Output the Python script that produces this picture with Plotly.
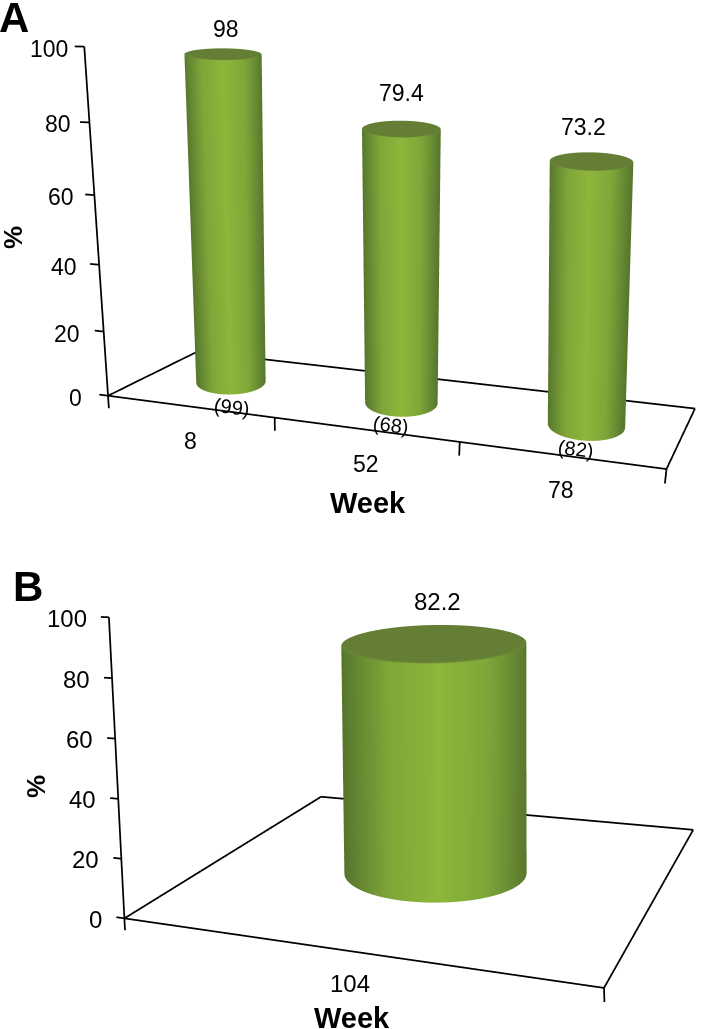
import math
import numpy as np
import plotly.graph_objects as go

weeks_a = ["8", "52", "78"]
pct_a = [98, 79.4, 73.2]
n_a = ["(99)", "(68)", "(82)"]
weeks_b = ["104"]
pct_b = [82.2]
z_ticks = [0, 20, 40, 60, 80, 100]

W = 704; H = 1029
XR_A = [-0.12, 3.02]; XR_B = [-0.04, 1.01]; YR = [-0.5, 1.5]; ZR = [-5, 102]
CAM_A = [1.136,-3.195,0.576,0.948,-2.714,0.366,1.646,1.075,-0.898,2.251]
CAM_B = [1.533,-3.793,0.962,-1.116,1.963,0.628,1.563,2.767,-1.927,4.309]

# per-cylinder view styling: view yaw (deg), cap depth growth, base and top x offsets
YAW_A = [27.5, 19.4, 10.5]; GROW_A = [2.6, 1.1, 0.8]; BASE_A = [-.01, .015, .02]; TOPX_A = [0, -.02, -.06]
YAW_B = 21.7; GROW_B = .5; BASE_B = .01; TOPX_B = .026

SIDE = [[0,"#56752c"],[.06,"#5f8030"],[.25,"#7fa638"],[.5,"#8db63a"],[.75,"#7fa638"],[.94,"#5f8030"],[1,"#56752c"]]
TOP = [[0,"#647f35"],[.6,"#6b8a35"],[1,"#8ab03c"]]
LIGHT = dict(ambient=1, diffuse=0, specular=0, fresnel=0, roughness=1)

def cyl(cx, cy, rw, rd0, grow, h, yaw, dxb, dxt, scene):
    t = np.linspace(0, 2*np.pi, 121)
    rdt = rd0*(1+grow*h/100)
    psi = math.radians(yaw)
    cp, sp = math.cos(psi), math.sin(psi)
    def ring(a, d, dx):
        return cx+dx+a*np.cos(t)*cp-d*np.sin(t)*sp, cy+a*np.cos(t)*sp+d*np.sin(t)*cp
    x0,y0 = ring(rw,rd0,dxb); x1,y1 = ring(rw,rdt,dxt)
    u = np.cos(t)
    side = go.Surface(x=np.vstack([x0,x1]), y=np.vstack([y0,y1]), z=np.vstack([0*t,0*t+h]),
        surfacecolor=np.vstack([u,u]), cmin=-1, cmax=1, colorscale=SIDE,
        showscale=False, lighting=LIGHT, hoverinfo="skip", scene=scene)
    rings = [ring(rw*r, rdt*r, dxt) for r in (0,.9,.97,1.0)]
    XT = np.vstack([q[0] for q in rings]); YT = np.vstack([q[1] for q in rings])
    front = np.clip(-np.sin(t),0,1)
    col = np.vstack([0*t,0*t,front*.9,front])
    top = go.Surface(x=XT, y=YT, z=0*XT+h, surfacecolor=col, cmin=0, cmax=1, colorscale=TOP,
        showscale=False, lighting=LIGHT, hoverinfo="skip", scene=scene)
    return [side, top]

def frame(nx, tx, scene):
    xs=[];ys=[];zs=[]
    def seg(a,b):
        xs.extend([a[0],b[0],None]);ys.extend([a[1],b[1],None]);zs.extend([a[2],b[2],None])
    seg((0,0,0),(0,1,0));seg((0,1,0),(nx,1,0));seg((nx,1,0),(nx,0,0));seg((nx,0,0),(0,0,0));seg((0,0,0),(0,0,100))
    for z in z_ticks: seg((0,0,z),(-tx,0,z))
    for i in range(nx+1): seg((i,0,0),(i,0,-4))
    return go.Scatter3d(x=xs,y=ys,z=zs,mode="lines",line=dict(color="#000",width=3.5),hoverinfo="skip",showlegend=False,scene=scene)

fig = go.Figure()
for i,v in enumerate(pct_a):
    fig.add_traces(cyl(i+.5,.5,.195,.25,GROW_A[i],v,YAW_A[i],BASE_A[i],TOPX_A[i],"scene"))
fig.add_trace(frame(3,.055,"scene"))
fig.add_traces(cyl(.5,.5,.205,.205,GROW_B,pct_b[0],YAW_B,BASE_B,TOPX_B,"scene2"))
fig.add_trace(frame(1,.02,"scene2"))

F = "Liberation Sans, Arial, sans-serif"
def ann(x,y,z,text,size=23,**k):
    return dict(x=x,y=y,z=z,text=text,showarrow=False,font=dict(family=F,size=size,color="#000"),**k)
val_shift_a = [(3,25),(-4,36),(-21,35)]
n_shift_a = [(-1,-25),(-8,-23),(-6,-24)]
annA = [ann(0,0,z,str(z),xanchor="right",xshift=-24+10*z/100,yshift=-2) for z in z_ticks]
annA += [ann(i+.5,.5,v,str(v),xshift=val_shift_a[i][0],yshift=val_shift_a[i][1]) for i,v in enumerate(pct_a)]
annA += [ann(i+.5,0,0,w,xshift=1,yshift=-35) for i,w in enumerate(weeks_a)]
annA += [ann(i+.5,.5,0,n,size=20,textangle=7,xshift=n_shift_a[i][0],yshift=n_shift_a[i][1]) for i,n in enumerate(n_a)]
annB = [ann(0,0,z,str(z),size=24,xanchor="right",xshift=-20,yshift=-1) for z in z_ticks]
annB += [ann(.5,.5,pct_b[0],str(pct_b[0]),size=24,xshift=16,yshift=41)]
annB += [ann(.5,0,0,weeks_b[0],size=24,xshift=7,yshift=-33)]

def scene(p, xr, an):
    ax0 = dict(visible=False, showspikes=False)
    return dict(domain=dict(x=[0,1],y=[0,1]),
        xaxis=dict(range=xr,**ax0), yaxis=dict(range=YR,**ax0), zaxis=dict(range=ZR,**ax0),
        aspectmode="manual", aspectratio=dict(x=p[6],y=p[7],z=1),
        camera=dict(eye=dict(x=p[0],y=p[1],z=p[2]), center=dict(x=p[3],y=p[4],z=p[5]),
                    up=dict(x=p[8],y=p[9],z=1), projection=dict(type="perspective")),
        annotations=an, bgcolor="rgba(0,0,0,0)")

def pa(px,py,text,size,angle=0):
    return dict(x=px/W,y=1-py/H,xref="paper",yref="paper",text="<b>%s</b>"%text,showarrow=False,
        textangle=angle,font=dict(family=F,size=size,color="#000"),xanchor="center",yanchor="middle")

fig.update_layout(width=W,height=H,margin=dict(l=0,r=0,t=0,b=0),paper_bgcolor="#fff",showlegend=False,
    scene=scene(CAM_A,XR_A,annA),scene2=scene(CAM_B,XR_B,annB),
    annotations=[pa(14,17,"A",42),pa(28,586,"B",42),pa(368,503,"Week",29),pa(352,1018,"Week",29),
                 pa(13,238,"%",26,-90),pa(36,787,"%",26,-90)])
fig.write_html("out.html", post_script="document.body.style.margin='0';", config=dict(displayModeBar=False))
